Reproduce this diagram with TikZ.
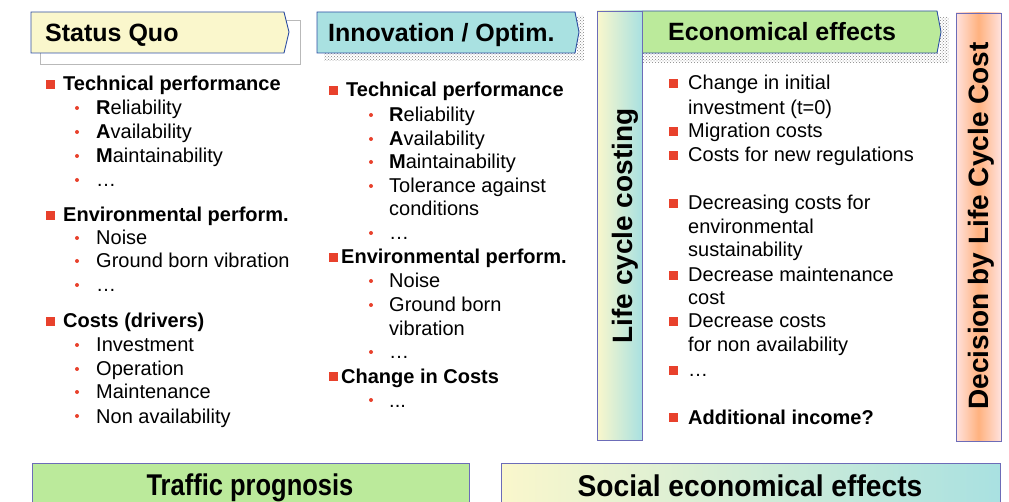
\documentclass[tikz,border=0pt]{standalone}
\usepackage{fontspec}
\setmainfont{Liberation Sans}
\usetikzlibrary{patterns}
\definecolor{quoyellow}{HTML}{FAF7CC}
\definecolor{innocyan}{HTML}{A9E1E1}
\definecolor{ecogreen}{HTML}{BBEA9B}
\definecolor{hdrblue}{HTML}{2E4FA3}
\definecolor{barblue}{HTML}{6C6CB8}
\definecolor{bulletred}{HTML}{E8412C}
\definecolor{lcdpink}{HTML}{FFE2DE}
\definecolor{lcdorange}{HTML}{FFB27F}
\tikzset{
  hdrtext/.style={font=\fontsize{25}{30}\selectfont\bfseries, anchor=base west, inner sep=0pt},
  bartext/.style={font=\fontsize{28}{32}\selectfont\bfseries, anchor=base, inner sep=0pt, rotate=90},
  bottext/.style={font=\fontsize{30}{34}\selectfont\bfseries, anchor=base, inner sep=0pt},
  itemtext/.style={font=\fontsize{20}{24}\selectfont, anchor=base west, inner sep=0pt},
  boldtext/.style={itemtext, font=\fontsize{20}{24}\selectfont\bfseries},
  hdrshape/.style={draw=hdrblue, line width=0.9pt},
  barshape/.style={draw=barblue, line width=0.9pt},
  chkshadow/.style={pattern=crosshatch dots, pattern color=gray}
}
% bullets: x, baseline
\newcommand{\sqbullet}[2]{\fill[bulletred] (#1,#2-11) rectangle ++(9,9);}
\newcommand{\dotbullet}[2]{\fill[bulletred] (#1,#2-7) circle (2);}

\begin{document}
\begin{tikzpicture}[x=1pt, y=-1pt]
	\useasboundingbox (0,0) rectangle (1009,502);
	\clip (0,0) rectangle (1009,502);

	% headers
	\draw[gray!55, line width=0.9pt] (40,20) rectangle (300,64);
	\filldraw[hdrshape, fill=quoyellow] (31,12) -- (284,12) -- (289,32) -- (284,53) -- (31,53) -- cycle;
	\node[hdrtext] (statusquo) at (45,42) {Status Quo};

	\fill[chkshadow] (324,53) rectangle (584,61) (577,16) rectangle (584,61);
	\filldraw[hdrshape, fill=innocyan] (317,12) -- (575,12) -- (579,32) -- (575,53) -- (317,53) -- cycle;
	\node[hdrtext] (innovation) at (328,42) {Innovation / Optim.};

	\fill[chkshadow] (643,53) rectangle (949,63) (940,17) rectangle (949,63);
	\filldraw[hdrshape, fill=ecogreen] (642,11) -- (937,11) -- (941,32) -- (937,53) -- (642,53) -- cycle;
	\node[hdrtext] (economical) at (668,41) {Economical effects};

	% vertical bars
	\shade[left color=quoyellow, right color=innocyan] (597,11) rectangle (642,440);
	\draw[barshape] (597,11) rectangle (642,440);
	\node[bartext] (lcc) at (632,226) {Life cycle costing};

	\shade[left color=lcdpink, right color=lcdpink, middle color=lcdorange] (956,13) rectangle (1001,441);
	\draw[barshape] (956,13) rectangle (1001,441);
	\node[bartext] (decision) at (988,226) {Decision by Life Cycle Cost};

	% status quo list
	\foreach \yy in {91,222,328} {\sqbullet{46}{\yy}}
	\foreach \yy/\txt in {91/{Technical performance}, 222/{Environmental perform.}, 328/{Costs (drivers)}}
		\node[boldtext] (sq-\yy) at (63,\yy) {\txt};
	\foreach \yy/\txt in {115/{\textbf{R}eliability}, 139/{\textbf{A}vailability}, 163/{\textbf{M}aintainability}, 187/{…},
		245/{Noise}, 268/{Ground born vibration}, 292/{…},
		352/{Investment}, 376/{Operation}, 399/{Maintenance}, 423/{Non availability}} {
		\dotbullet{77}{\yy}
		\node[itemtext] (sqsub-\yy) at (96,\yy) {\txt};
	}

	% innovation list
	\foreach \yy in {97,264,383} {\sqbullet{329}{\yy}}
	\node[boldtext] (in-97) at (346,97) {Technical performance};
	\node[boldtext] (in-264) at (341,264) {Environmental perform.};
	\node[boldtext] (in-383) at (341,383) {Change in Costs};
	\foreach \yy in {122,146,169,193,240,288,312,359,407} {\dotbullet{371}{\yy}}
	\foreach \yy/\txt in {122/{\textbf{R}eliability}, 146/{\textbf{A}vailability}, 169/{\textbf{M}aintainability},
		193/{Tolerance against}, 216/{conditions}, 240/{…},
		288/{Noise}, 312/{Ground born}, 336/{vibration}, 359/{…}, 407/{.\kern0pt.\kern0pt.}}
		\node[itemtext] (insub-\yy) at (389,\yy) {\txt};

	% economical effects list
	\foreach \yy in {90,138,162,210,282,328,377,424} {\sqbullet{669}{\yy}}
	\foreach \yy/\txt in {90/{Change in initial}, 115/{investment (t=0)}, 138/{Migration costs}, 162/{Costs for new regulations},
		210/{Decreasing costs for}, 234/{environmental}, 257/{sustainability}, 282/{Decrease maintenance}, 305/{cost},
		328/{Decrease costs}, 352/{for non availability}, 377/{…}}
		\node[itemtext] (eco-\yy) at (688,\yy) {\txt};
	\node[boldtext] (eco-424) at (688,424) {Additional income?};

	% bottom boxes
	\filldraw[barshape, fill=ecogreen] (32,463) rectangle (469,510);
	\node[bottext] (traffic) at (250,495) {\scalebox{0.85}[1]{Traffic prognosis}};
	\shade[left color=quoyellow, right color=innocyan] (501,463) rectangle (1000,510);
	\draw[barshape] (501,463) rectangle (1000,510);
	\node[bottext] (social) at (750,496) {\scalebox{0.94}[1]{Social economical effects}};
\end{tikzpicture}
\end{document}
